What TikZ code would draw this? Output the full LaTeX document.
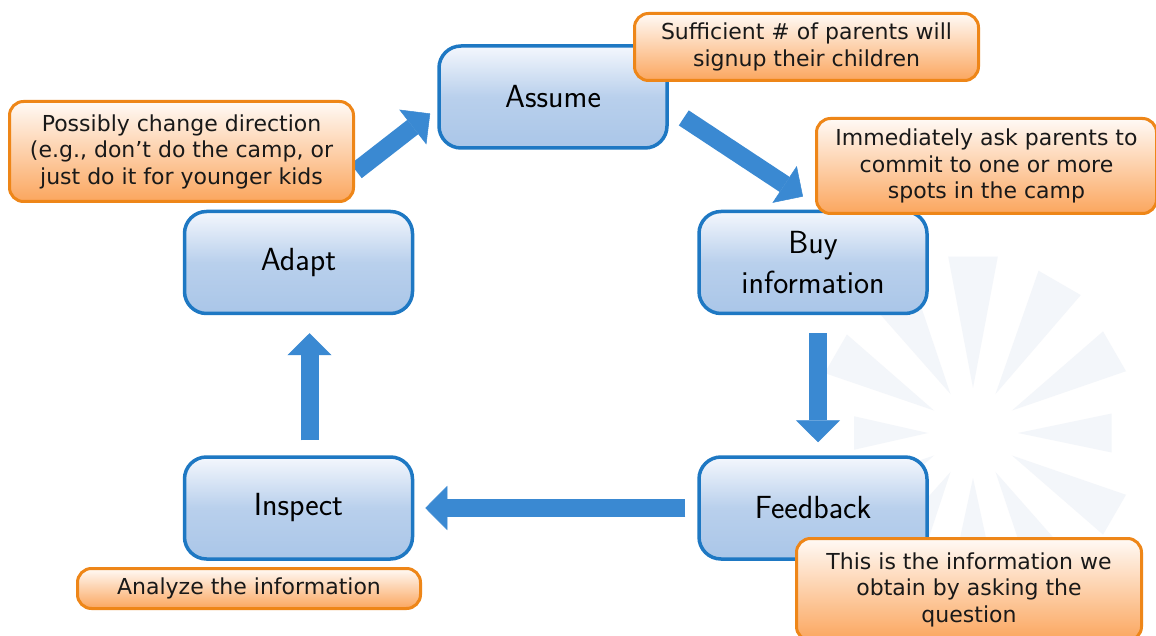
\documentclass[tikz,border=0pt]{standalone}
\usepackage{fontspec}
\newfontfamily\notefont{DejaVu Sans}
\usetikzlibrary{positioning,arrows.meta}

\definecolor{stageedge}{RGB}{30,120,195}
\definecolor{stagetop}{RGB}{244,247,253}
\definecolor{stagebottom}{RGB}{170,198,232}
\definecolor{flowblue}{RGB}{58,137,210}
\definecolor{noteedge}{RGB}{238,134,24}
\definecolor{notetop}{RGB}{255,250,246}
\definecolor{notebottom}{RGB}{251,166,94}
\definecolor{burst}{RGB}{243,246,250}

\begin{document}
\begin{tikzpicture}[
      x=1pt, y=1pt,
      stage/.style = {draw=stageedge, line width=3.5pt, rounded corners=22pt,
                      top color=stagetop, bottom color=stagebottom, middle color=stagebottom!80!stagetop,
                      minimum width=228pt, minimum height=102pt, align=center,
                      font=\sffamily\fontsize{32}{40}\selectfont},
      note/.style  = {draw=noteedge, line width=3pt, rounded corners=14pt,
                      top color=notetop, bottom color=notebottom, align=center,
                      inner sep=2pt, text=black!90,
                      font=\notefont\fontsize{22}{26.5}\selectfont},
      flow/.style  = {draw=flowblue, line width=18pt,
                      -{Triangle[length=22pt 0 0, width=44pt 0 0, line width=0.5pt 0 0]}},
      ray/.style   = {fill=burst}
    ]
    \path[use as bounding box, fill=white] (0,0) rectangle (1156,635);

    % faint starburst behind the right side
    \coordinate (hub) at (973,202);
    \foreach \a/\r in {0/140, 30/165, 60/175, 90/178, 120/150, 150/160,
                       180/120, 210/150, 240/140, 270/130, 300/150, 330/165}
      \fill[ray] ([shift={(\a:45)}]hub) -- ([shift={(\a-8:\r)}]hub)
                 -- ([shift={(\a+8:\r)}]hub) -- cycle;

    % the cycle
    \node (adapt)    [stage] at (298.5,372.5)                    {Adapt};
    \node (assume)   [stage, above right=60pt and 23pt of adapt] {Assume};
    \node (buy)      [stage, right=283pt of adapt]               {Buy\\information};
    \node (feedback) [stage, below=140pt of buy]                 {Feedback};
    \node (inspect)  [stage, below=140pt of adapt]               {Inspect};

    \draw[flow, shorten <=18pt, shorten >=24pt] ([yshift=-11pt]assume.east) -- ([xshift=10pt]buy.north);
    \draw[flow, shorten <=18pt, shorten >=13pt] ([xshift=5pt]buy.south)     -- ([xshift=5pt]feedback.north);
    \draw[flow, shorten <=12pt, shorten >=11pt] (feedback.west)             -- (inspect.east);
    \draw[flow, shorten <=15pt, shorten >=18pt] ([xshift=11pt]inspect.north) -- ([xshift=11pt]adapt.south);
    \draw[flow, shorten <=63pt, shorten >=9pt]  ([xshift=8pt]adapt.north)   -- ([yshift=-11pt]assume.west);

    % notes
    \node (sufficient)  [note, minimum width=344pt, minimum height=67pt]  at (806.5,588)  {Sufficient \# of parents will\\signup their children};
    \node (immediately) [note, minimum width=340pt, minimum height=95pt]  at (986.5,469)  {Immediately ask parents to\\commit to one or more\\spots in the camp};
    \node (possibly)    [note, minimum width=344pt, minimum height=100pt] at (181.5,483.5) {Possibly change direction\\(e.g., don’t do the camp, or\\just do it for younger kids};
    \node (analyze)     [note, minimum width=343pt, minimum height=40pt]  at (249,46.5)   {Analyze the information};
    \node (thisis)      [note, minimum width=345pt, minimum height=102pt] at (969,45.5)   {This is the information we\\obtain by asking the\\question};
  \end{tikzpicture}
\end{document}
